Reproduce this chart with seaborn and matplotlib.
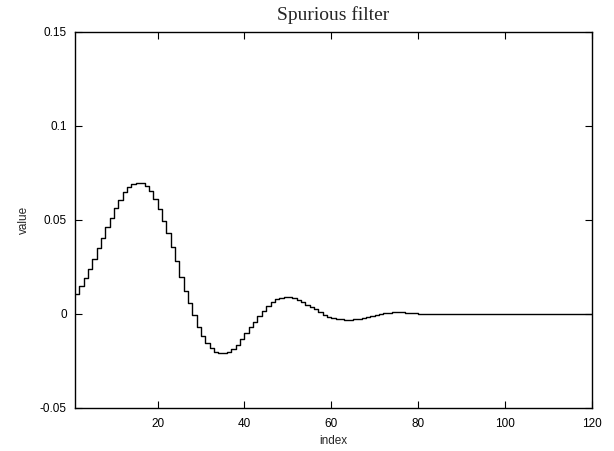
import numpy as np
import pandas as pd
import matplotlib
matplotlib.use("Agg")
import matplotlib.pyplot as plt
from matplotlib.ticker import FuncFormatter
import seaborn as sns

# filter taps (index 1..120)
index = list(range(1, 121))
value = [
    0.0105, 0.0150, 0.0193, 0.0238, 0.0291, 0.0349, 0.0403, 0.0461, 0.0512, 0.0562,
    0.0606, 0.0648, 0.0674, 0.0690, 0.0698, 0.0698, 0.0683, 0.0655, 0.0612, 0.0558,
    0.0495, 0.0432, 0.0355, 0.0283, 0.0199, 0.0124, 0.0060, -0.0005, -0.0071, -0.0115,
    -0.0156, -0.0183, -0.0200, -0.0209, -0.0209, -0.0200, -0.0188, -0.0165, -0.0135, -0.0103,
    -0.0071, -0.0041, -0.0011, 0.0018, 0.0043, 0.0066, 0.0078, 0.0085, 0.0089, 0.0089,
    0.0083, 0.0073, 0.0062, 0.0050, 0.0037, 0.0024, 0.0008, -0.0005, -0.0014, -0.0021,
    -0.0025, -0.0028, -0.0030, -0.0030, -0.0028, -0.0025, -0.0020, -0.0014, -0.0009, -0.0004,
    0.0000, 0.0004, 0.0007, 0.0009, 0.0011, 0.0012, 0.0003, 0.0003, 0.0003, 0.0002,
    0.0002, 0.0002, 0.0002, 0.0002, 0.0001, 0.0001, 0.0001, 0.0001, 0.0001, 0.0001,
    0.0001, 0.0001, 0.0001, 0.0001, 0.0000, 0.0000, 0.0000, 0.0000, 0.0000, 0.0000,
    0.0000, 0.0000, 0.0000, 0.0000, 0.0000, 0.0000, 0.0000, 0.0000, 0.0000, 0.0000,
    0.0000, 0.0000, 0.0000, 0.0000, 0.0000, 0.0000, 0.0000, 0.0000, 0.0000, 0.0000,
]
x_ticks = [20, 40, 60, 80, 100, 120]
y_ticks = [-0.05, 0, 0.05, 0.1, 0.15]

df = pd.DataFrame({"index": index, "value": value})

sns.set_style("ticks")
plt.rcParams["font.family"] = ["Liberation Sans", "DejaVu Sans"]

fig = plt.figure(figsize=(6.14, 4.51), dpi=100)
ax = fig.add_axes([75 / 614, 1 - 408 / 451, (592 - 75) / 614, (408 - 32) / 451])

sns.lineplot(data=df, x="index", y="value", color="black", linewidth=1.0,
             drawstyle="steps-post", ax=ax)

ax.set_xlim(1, 120)
ax.set_ylim(-0.05, 0.15)
ax.set_xticks(x_ticks)
ax.set_yticks(y_ticks)
ax.yaxis.set_major_formatter(FuncFormatter(lambda v, p: f"{v:g}"))

ax.tick_params(direction="in", length=5, width=0.8, top=True, right=True,
               labelsize=8.5, colors="black")
ax.tick_params(axis="x", pad=7)
ax.tick_params(axis="y", pad=6)
for s in ax.spines.values():
    s.set_visible(True)
    s.set_linewidth(1.0)
    s.set_color("black")

ax.set_xlabel("index", fontsize=8.5, labelpad=4)
ax.set_ylabel("value", fontsize=8.5, labelpad=7)
ax.set_title("Spurious filter", fontsize=14, family=["Liberation Serif", "DejaVu Serif"], pad=8.5)

fig.savefig("out.png", dpi=100)
